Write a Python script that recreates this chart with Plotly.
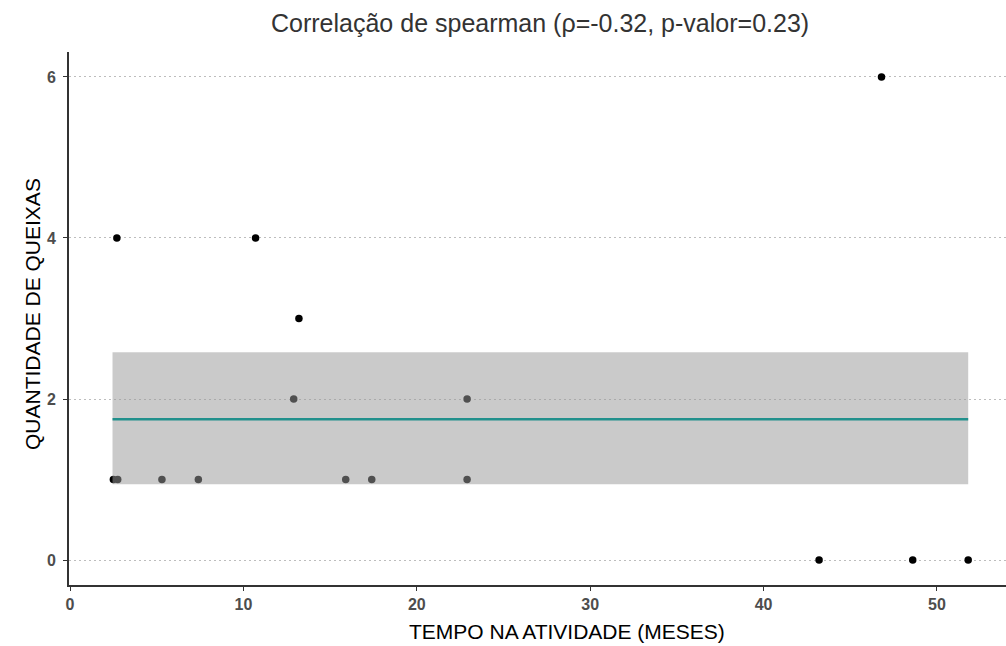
import plotly.graph_objects as go

# Data
tempo_meses = [2.5, 2.75, 2.7, 5.3, 7.4, 10.7, 12.9, 13.2, 15.9, 17.4, 22.9, 22.9, 43.2, 46.8, 48.6, 51.8]
queixas     = [1,   1,    4,   1,   1,   4,    2,    3,    1,    1,    2,    1,    0,    6,    0,    0]

# Smoothed fit (flat mean with confidence band)
fit_x = [2.45, 51.8]
fit_mean = [1.75, 1.75]
fit_lower = [0.94, 0.94]
fit_upper = [2.58, 2.58]

x_ticks = [0, 10, 20, 30, 40, 50]
y_ticks = [0, 2, 4, 6]

title_text = "Correlação de spearman (ρ=-0.32, p-valor=0.23)"
x_title = "TEMPO NA ATIVIDADE (MESES)"
y_title = "QUANTIDADE DE QUEIXAS"

fig = go.Figure()

fig.add_trace(go.Scatter(
    x=tempo_meses, y=queixas, mode="markers",
    marker=dict(color="black", size=7.5),
    showlegend=False, hoverinfo="x+y"))

fig.add_trace(go.Scatter(
    x=fit_x + fit_x[::-1], y=fit_upper + fit_lower[::-1],
    fill="toself", fillcolor="rgba(153,153,153,0.52)",
    line=dict(width=0), mode="lines", showlegend=False, hoverinfo="skip"))

fig.add_trace(go.Scatter(
    x=fit_x, y=fit_mean, mode="lines",
    line=dict(color="#21908C", width=2.5), showlegend=False))

tick_font = dict(family="Liberation Sans, Arial", size=16,
                 color="#4d4d4d", weight="bold")
title_font = dict(family="Liberation Sans, Arial", size=21, color="#000000")

fig.update_layout(
    width=1006, height=646,
    margin=dict(l=69, r=0, t=52, b=61),
    plot_bgcolor="white", paper_bgcolor="white",
    xaxis=dict(range=[-0.06, 53.98], tickvals=x_ticks, ticks="outside", ticklen=4,
               tickcolor="#333333", tickwidth=1.2,
               showline=True, linecolor="#333333", linewidth=1.8,
               showgrid=False, zeroline=False, tickfont=tick_font),
    yaxis=dict(range=[-0.31, 6.31], tickvals=y_ticks, ticks="outside", ticklen=4,
               tickcolor="#333333", tickwidth=1.2, ticklabelstandoff=4,
               showline=True, linecolor="#333333", linewidth=1.8,
               showgrid=True, gridcolor="#bdbdbd", griddash="1.5px,3.5px", gridwidth=1.2,
               zeroline=False, tickfont=tick_font),
    annotations=[
        dict(text=title_text, x=540, y=23, showarrow=False,
             font=dict(family="Liberation Sans, Arial", size=25, color="#333333"),
             xanchor="center", yanchor="middle"),
        dict(text=x_title, x=567, y=631, showarrow=False, font=title_font,
             xanchor="center", yanchor="middle"),
        dict(text=y_title, x=32, y=314, showarrow=False, font=title_font, textangle=-90,
             xanchor="center", yanchor="middle"),
    ],
)

# convert pixel positions of annotations to paper coordinates
pw = 1006 - 69
ph = 646 - 52 - 61
for a in fig.layout.annotations:
    a.x = (a.x - 69) / pw
    a.y = (646 - 61 - a.y) / ph
    a.xref = "paper"
    a.yref = "paper"

fig.write_html("out.html")
